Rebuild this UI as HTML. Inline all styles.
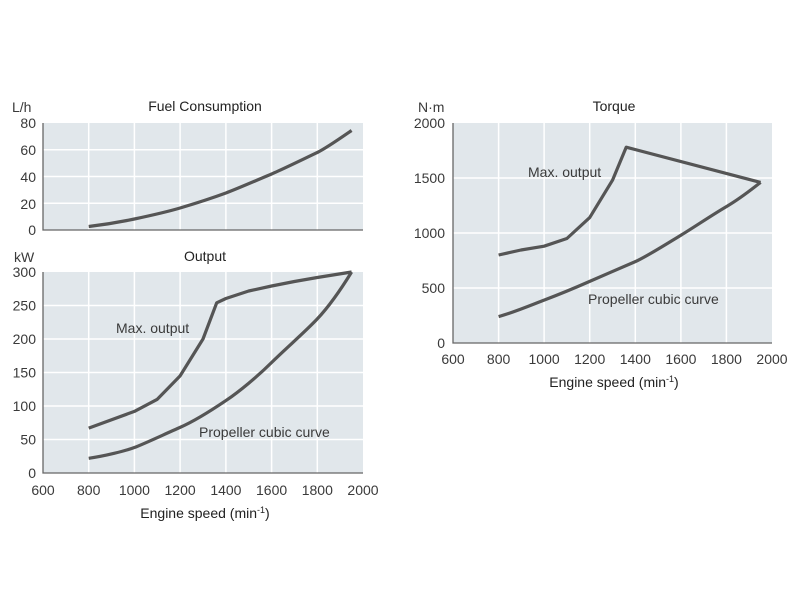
<!DOCTYPE html>
<html><head><meta charset="utf-8"><style>
html,body{margin:0;padding:0;background:#fff;}
svg text{font-family:"Liberation Sans",sans-serif;fill:#3a3a3a;}
.t{fill:#222;font-size:14px;}
</style></head><body>
<svg width="800" height="600" viewBox="0 0 800 600" xmlns="http://www.w3.org/2000/svg">
<!-- Fuel chart -->
<rect x="43" y="123" width="320" height="107" fill="#e1e7eb"/>
<g stroke="#fff" stroke-width="1.5">
<line x1="88.7" y1="123" x2="88.7" y2="230"/><line x1="134.4" y1="123" x2="134.4" y2="230"/><line x1="180.1" y1="123" x2="180.1" y2="230"/><line x1="225.9" y1="123" x2="225.9" y2="230"/><line x1="271.6" y1="123" x2="271.6" y2="230"/><line x1="317.3" y1="123" x2="317.3" y2="230"/>
<line x1="43" y1="203.2" x2="363" y2="203.2"/><line x1="43" y1="176.5" x2="363" y2="176.5"/><line x1="43" y1="149.7" x2="363" y2="149.7"/>
</g>
<polyline points="43,123 43,230 363,230" fill="none" stroke="#666" stroke-width="1.3"/>
<path d="M88.7,226.5 C110,224 125,221 134.4,219 S170,211 180.1,208 S215,197 225.9,193 S262,178 271.6,174 S308,157 317.3,152.5 S345,135 351.6,130.5" fill="none" stroke="#555" stroke-width="3.2"/>
<g font-size="14" text-anchor="end">
<text x="36" y="128">80</text><text x="36" y="155">60</text><text x="36" y="182">40</text><text x="36" y="209">20</text><text x="36" y="235">0</text>
</g>
<text x="12" y="112" font-size="14">L/h</text>
<text x="205" y="111" class="t" text-anchor="middle">Fuel Consumption</text>

<!-- Output chart -->
<rect x="43" y="272" width="320" height="201" fill="#e1e7eb"/>
<g stroke="#fff" stroke-width="1.5">
<line x1="88.7" y1="272" x2="88.7" y2="473"/><line x1="134.4" y1="272" x2="134.4" y2="473"/><line x1="180.1" y1="272" x2="180.1" y2="473"/><line x1="225.9" y1="272" x2="225.9" y2="473"/><line x1="271.6" y1="272" x2="271.6" y2="473"/><line x1="317.3" y1="272" x2="317.3" y2="473"/>
<line x1="43" y1="439.5" x2="363" y2="439.5"/><line x1="43" y1="406" x2="363" y2="406"/><line x1="43" y1="372.5" x2="363" y2="372.5"/><line x1="43" y1="339" x2="363" y2="339"/><line x1="43" y1="305.5" x2="363" y2="305.5"/>
</g>
<polyline points="43,272 43,473 363,473" fill="none" stroke="#666" stroke-width="1.3"/>
<polyline points="88.7,428.1 134.4,411.4 157.3,399.3 180.1,375.9 203,339 216.7,302.8 225.9,298.5 248.7,291 271.6,286 294.4,281.5 317.3,277.5 351.6,272" fill="none" stroke="#555" stroke-width="3.2" stroke-linejoin="round"/>
<path d="M88.7,458.3 C105,456 125,451 134.4,447.5 S165,434 180.1,427.4 S212,410 225.9,400.6 S258,376 271.6,362.5 S305,332 317.3,318.9 S343,286 351.6,272" fill="none" stroke="#555" stroke-width="3.2"/>
<g font-size="14" text-anchor="end">
<text x="36" y="277">300</text><text x="36" y="310.5">250</text><text x="36" y="344">200</text><text x="36" y="377.5">150</text><text x="36" y="411">100</text><text x="36" y="444.5">50</text><text x="36" y="478">0</text>
</g>
<text x="14" y="262" font-size="14">kW</text>
<text x="205" y="261" class="t" text-anchor="middle">Output</text>
<text x="116" y="333" font-size="14">Max. output</text>
<text x="199" y="437" font-size="14">Propeller cubic curve</text>
<g font-size="14" text-anchor="middle">
<text x="43" y="495">600</text><text x="88.7" y="495">800</text><text x="134.4" y="495">1000</text><text x="180.1" y="495">1200</text><text x="225.9" y="495">1400</text><text x="271.6" y="495">1600</text><text x="317.3" y="495">1800</text><text x="363" y="495">2000</text>
</g>
<text x="205" y="518" class="t" text-anchor="middle">Engine speed (min<tspan font-size="9" dy="-5">-1</tspan><tspan dy="5">)</tspan></text>

<!-- Torque chart -->
<rect x="453" y="123" width="319" height="220" fill="#e1e7eb"/>
<g stroke="#fff" stroke-width="1.5">
<line x1="498.6" y1="123" x2="498.6" y2="343"/><line x1="544.1" y1="123" x2="544.1" y2="343"/><line x1="589.7" y1="123" x2="589.7" y2="343"/><line x1="635.3" y1="123" x2="635.3" y2="343"/><line x1="680.9" y1="123" x2="680.9" y2="343"/><line x1="726.4" y1="123" x2="726.4" y2="343"/>
<line x1="453" y1="288" x2="772" y2="288"/><line x1="453" y1="233" x2="772" y2="233"/><line x1="453" y1="178" x2="772" y2="178"/>
</g>
<polyline points="453,123 453,343 772,343" fill="none" stroke="#666" stroke-width="1.3"/>
<polyline points="498.6,255 521,250 544.1,246.2 566.9,238.5 589.7,217.6 612.5,180.2 626.2,147.2 760.6,182.4" fill="none" stroke="#555" stroke-width="3.2" stroke-linejoin="round"/>
<path d="M498.6,316.6 C515,312 535,303.5 544.1,300.1 S577,287 589.7,281.4 S625,266 635.3,261.6 S668,243 680.9,235.2 S712,215 726.4,206.6 S752,189 760.6,182.4" fill="none" stroke="#555" stroke-width="3.2"/>
<g font-size="14" text-anchor="end">
<text x="445" y="128">2000</text><text x="445" y="183">1500</text><text x="445" y="238">1000</text><text x="445" y="293">500</text><text x="445" y="348">0</text>
</g>
<text x="418" y="112" font-size="14">N·m</text>
<text x="614" y="111" class="t" text-anchor="middle">Torque</text>
<text x="528" y="177" font-size="14">Max. output</text>
<text x="588" y="304" font-size="14">Propeller cubic curve</text>
<g font-size="14" text-anchor="middle">
<text x="453" y="364">600</text><text x="498.6" y="364">800</text><text x="544.1" y="364">1000</text><text x="589.7" y="364">1200</text><text x="635.3" y="364">1400</text><text x="680.9" y="364">1600</text><text x="726.4" y="364">1800</text><text x="772" y="364">2000</text>
</g>
<text x="614" y="387" class="t" text-anchor="middle">Engine speed (min<tspan font-size="9" dy="-5">-1</tspan><tspan dy="5">)</tspan></text>
</svg>
</body></html>
